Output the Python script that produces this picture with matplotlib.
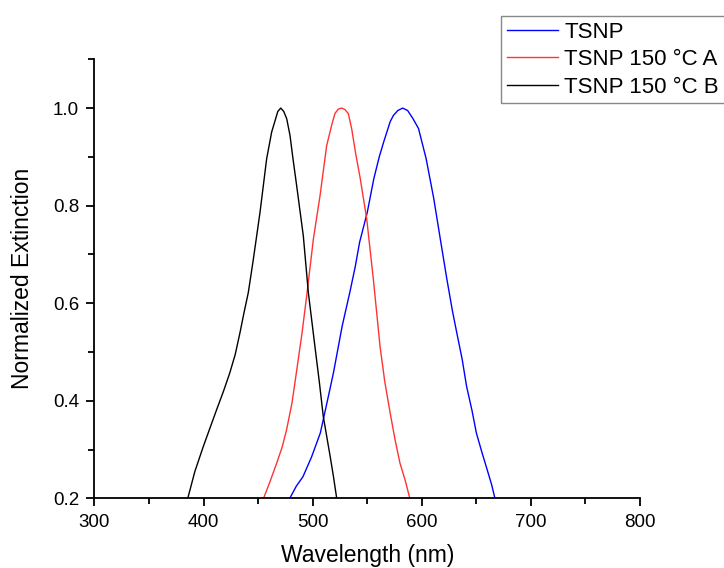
import numpy as np
import matplotlib
matplotlib.use("Agg")
import matplotlib.pyplot as plt
from matplotlib.ticker import MultipleLocator

plt.rcParams['font.family'] = ['Liberation Sans', 'DejaVu Sans']

# TSNP (blue)
wl_a = [479, 485, 491, 499, 507, 513, 519, 527, 534, 539, 543, 550, 556,
        561, 565, 571, 574, 578, 582.5, 587, 592, 597, 604, 611, 617, 623,
        628, 632, 637, 641, 646, 650, 655, 660, 664, 667]
ext_a = [0.20, 0.225, 0.244, 0.285, 0.334, 0.395, 0.457, 0.553, 0.622, 0.675,
         0.725, 0.786, 0.855, 0.900, 0.930, 0.972, 0.985, 0.995, 1.00, 0.995,
         0.978, 0.958, 0.896, 0.814, 0.731, 0.649, 0.585, 0.540, 0.485, 0.430,
         0.380, 0.334, 0.295, 0.258, 0.228, 0.20]

# TSNP 150 °C A (red)
wl_b = [455, 461, 467, 472, 476, 481, 485, 490, 494.5, 500.6, 506.7, 512.8,
        517.4, 520.4, 523.5, 526.6, 529.5, 532.6, 535.7, 539.5, 543.4, 549.5,
        555.6, 561.7, 566, 571, 575.5, 580, 585, 589]
ext_b = [0.20, 0.235, 0.272, 0.305, 0.340, 0.395, 0.457, 0.535, 0.615, 0.731,
         0.820, 0.923, 0.965, 0.989, 0.998, 1.00, 0.997, 0.989, 0.958, 0.905,
         0.858, 0.773, 0.649, 0.512, 0.440, 0.375, 0.320, 0.272, 0.235, 0.20]

# TSNP 150 °C B (black)
wl_c = [385.5, 392, 399.7, 406, 412, 418, 424, 429, 433.4, 437, 441, 445.6,
        451.7, 457.8, 462.4, 465.5, 468, 470.7, 473.5, 476.2, 479.2, 482,
        485.3, 491.4, 496, 502, 506, 509.7, 513, 516, 519, 522]
ext_c = [0.20, 0.255, 0.306, 0.345, 0.382, 0.418, 0.457, 0.495, 0.540, 0.580,
         0.622, 0.690, 0.786, 0.896, 0.951, 0.974, 0.993, 1.00, 0.993, 0.978,
         0.944, 0.895, 0.841, 0.738, 0.622, 0.512, 0.440, 0.368, 0.325, 0.286,
         0.245, 0.20]

fig = plt.figure(figsize=(7.24, 5.68), dpi=100)
ax = fig.add_axes([0.1305, 0.1227, 0.7535, 0.7729])

ax.plot(wl_a, ext_a, color='#0000ff', lw=1.0, label='TSNP')
ax.plot(wl_b, ext_b, color='#ff3333', lw=1.0, label='TSNP 150 °C A')
ax.plot(wl_c, ext_c, color='black', lw=1.0, label='TSNP 150 °C B')

ax.set_xlim(300, 800)
ax.set_ylim(0.2, 1.1)
ax.xaxis.set_major_locator(MultipleLocator(100))
ax.xaxis.set_minor_locator(MultipleLocator(50))
ax.yaxis.set_minor_locator(MultipleLocator(0.1))
ax.set_yticks([0.2, 0.4, 0.6, 0.8, 1.0])

for s in ['top', 'right']:
    ax.spines[s].set_visible(False)
for s in ['left', 'bottom']:
    ax.spines[s].set_linewidth(1.3)
ax.tick_params(which='major', direction='out', length=6, width=1.3,
               labelsize=13.5, pad=5)
ax.tick_params(which='minor', direction='out', length=4, width=1.3)

ax.set_xlabel('Wavelength (nm)', fontsize=16.5, labelpad=10)
ax.set_ylabel('Normalized Extinction', fontsize=16.5, labelpad=14)

leg = ax.legend(loc='upper left', bbox_to_anchor=(501 / 724, 1 - 16 / 568),
                bbox_transform=fig.transFigure, fontsize=16, fancybox=False,
                edgecolor='#888888', framealpha=1, borderaxespad=0,
                handlelength=2.3, handletextpad=0.3, labelspacing=0.3,
                borderpad=0.25)
leg.get_frame().set_linewidth(1.0)

fig.savefig('out.png', dpi=100)
